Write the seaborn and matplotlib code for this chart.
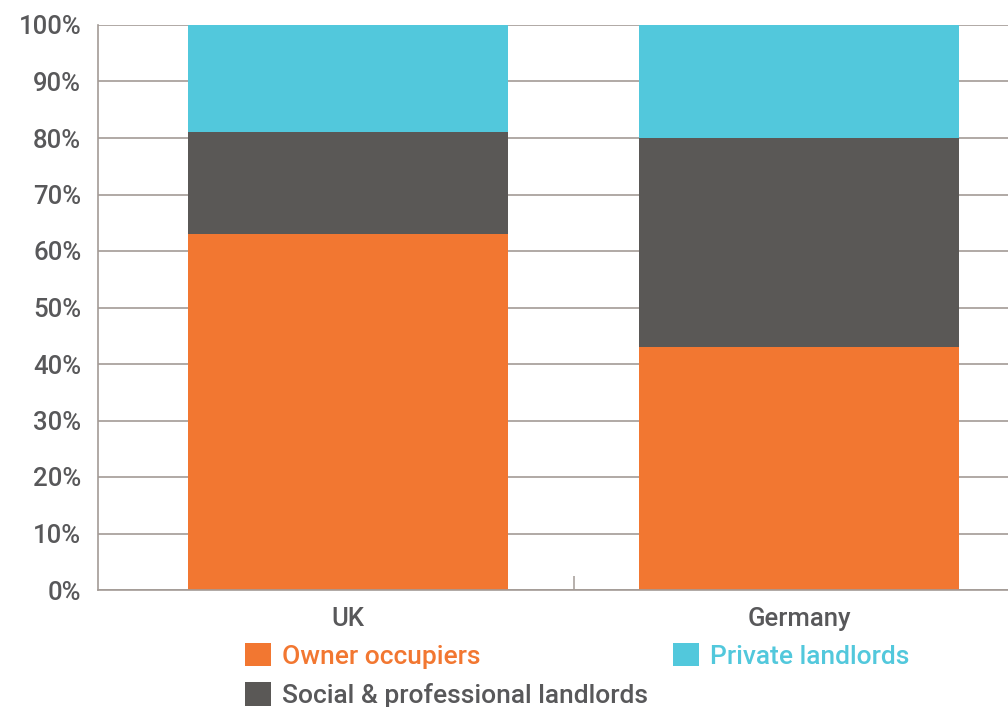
import pandas as pd
import matplotlib.pyplot as plt
import seaborn as sns
from matplotlib.patches import Patch
from matplotlib.ticker import PercentFormatter, FixedLocator

# Data (% of housing stock)
countries = ["UK", "Germany"]
owner = [63, 43]
social = [18, 37]
private = [19, 20]

labels = ["Owner occupiers", "Social & professional landlords", "Private landlords"]
colors = ["#F27731", "#5A5856", "#52C8DC"]

df = pd.DataFrame({"country": countries, "owner": owner, "social": social, "private": private})
df["lvl1"] = df["owner"]
df["lvl2"] = df["owner"] + df["social"]
df["lvl3"] = df["lvl2"] + df["private"]

sns.set_style("white")
plt.rcParams["font.family"] = ["Roboto", "Liberation Sans", "DejaVu Sans"]
plt.rcParams["font.weight"] = "medium"
text_color = "#58585A"
grid_color = "#A39B96"

fig = plt.figure(figsize=(10.08, 7.07), dpi=100)
ax = fig.add_axes([98 / 1008, 117 / 707, 910 / 1008, 565 / 707])

# stacked bars: draw cumulative totals from the top layer down
for col, c in zip(["lvl3", "lvl2", "lvl1"], colors[::-1]):
    sns.barplot(data=df, x="country", y=col, color=c, width=0.71,
                saturation=1, linewidth=0, ax=ax, zorder=2)

ax.set_xlim(-0.554, 1.463)
ax.set_ylim(0, 100)
ax.set_yticks(range(0, 101, 10))
ax.yaxis.set_major_formatter(PercentFormatter(decimals=0))
ax.grid(axis="y", color=grid_color, linewidth=1.2, zorder=0)
ax.set_axisbelow(True)
ax.set_xlabel("")
ax.set_ylabel("")

for s in ["top", "right"]:
    ax.spines[s].set_visible(False)
for s in ["left", "bottom"]:
    ax.spines[s].set_color(grid_color)
    ax.spines[s].set_linewidth(1.2)

ax.tick_params(axis="both", length=0, labelsize=18.5, labelcolor=text_color)
ax.tick_params(axis="y", pad=12)
ax.tick_params(axis="x", pad=12)
ax.xaxis.set_minor_locator(FixedLocator([0.5]))
ax.tick_params(axis="x", which="minor", bottom=True, direction="in",
               length=10, width=1.1, color=grid_color)

handles = [Patch(facecolor=c, edgecolor="none") for c in colors]
leg = fig.legend(handles, labels, ncol=2, loc="upper left",
                 bbox_to_anchor=(245 / 1008, 1 - 643 / 707), frameon=False,
                 fontsize=19, handlelength=0.98, handleheight=0.98,
                 handletextpad=0.42, columnspacing=0.95, labelspacing=0.52,
                 borderpad=0, borderaxespad=0,
                 labelcolor=[colors[0], text_color, colors[2]])

fig.savefig("out.png", dpi=100)
